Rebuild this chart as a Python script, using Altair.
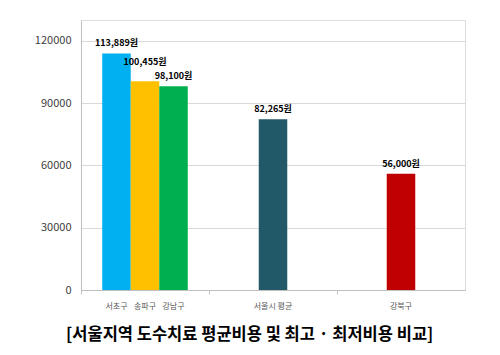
import altair as alt
import pandas as pd

categories = ["서초구", "송파구", "강남구", "서울시 평균", "강북구"]
groups = ["최고", "최고", "최고", "평균", "최저"]
group_order = ["최고", "평균", "최저"]
slots = ["a", "b", "c", "b", "b"]
values = [113889, 100455, 98100, 82265, 56000]
colors = ["#00B0F0", "#FFC000", "#00B050", "#215968", "#C00000"]
y_ticks = [0, 30000, 60000, 90000, 120000]
title_text = "[서울지역 도수치료 평균비용 및 최고 · 최저비용 비교]"

df = pd.DataFrame({"category": categories, "group": groups, "slot": slots, "value": values})

FONT = "Noto Sans CJK KR"

x_enc = alt.X("group:N", sort=group_order,
              scale=alt.Scale(paddingInner=0, paddingOuter=0),
              axis=alt.Axis(labels=False, title=None, bandPosition=0, tickSize=4,
                            domainColor="#BFBFBF", tickColor="#BFBFBF", grid=False))
xo_enc = alt.XOffset("slot:N", scale=alt.Scale(domain=["a", "b", "c"], paddingInner=0, paddingOuter=0.745))
y_enc = alt.Y("value:Q", scale=alt.Scale(domain=[0, 130000], nice=False),
              axis=alt.Axis(values=y_ticks, format="d", title=None, gridColor="#D9D9D9",
                            domainColor="#BFBFBF", ticks=False, labelPadding=10,
                            labelFontSize=11, labelColor="#404040", labelFont=FONT))

base = alt.Chart(df).encode(x=x_enc, xOffset=xo_enc)

bars = base.mark_bar().encode(
    y=y_enc,
    color=alt.Color("category:N", scale=alt.Scale(domain=categories, range=colors), legend=None),
)

labeled = base.transform_calculate(lbl="format(datum.value, ',') + '원'")

val_labels = labeled.transform_filter("datum.category != '송파구'").mark_text(
    dy=-10, fontSize=9, fontWeight="bold", font=FONT, color="#000000"
).encode(y="value:Q", text="lbl:N")

val_labels2 = labeled.transform_filter("datum.category == '송파구'").mark_text(
    dy=-19, fontSize=9, fontWeight="bold", font=FONT, color="#000000"
).encode(y="value:Q", text="lbl:N")

cat_labels = base.mark_text(dy=17, fontSize=8, font=FONT, color="#595959").encode(
    y=alt.datum(0), text="category:N"
)

chart = alt.layer(bars, val_labels, val_labels2, cat_labels).properties(
    width=384, height=270,
    title=alt.TitleParams(title_text, orient="bottom", anchor="middle", frame="bounds",
                          fontSize=16.5, fontWeight="bold", font=FONT, color="#000000", offset=16),
    autosize=alt.AutoSizeParams(type="none"),
    padding={"left": 81, "top": 20, "right": 35, "bottom": 65},
).configure_view(strokeWidth=0).configure(background="white")

chart.save("out.html", embed_options={"renderer": "svg", "actions": False})
